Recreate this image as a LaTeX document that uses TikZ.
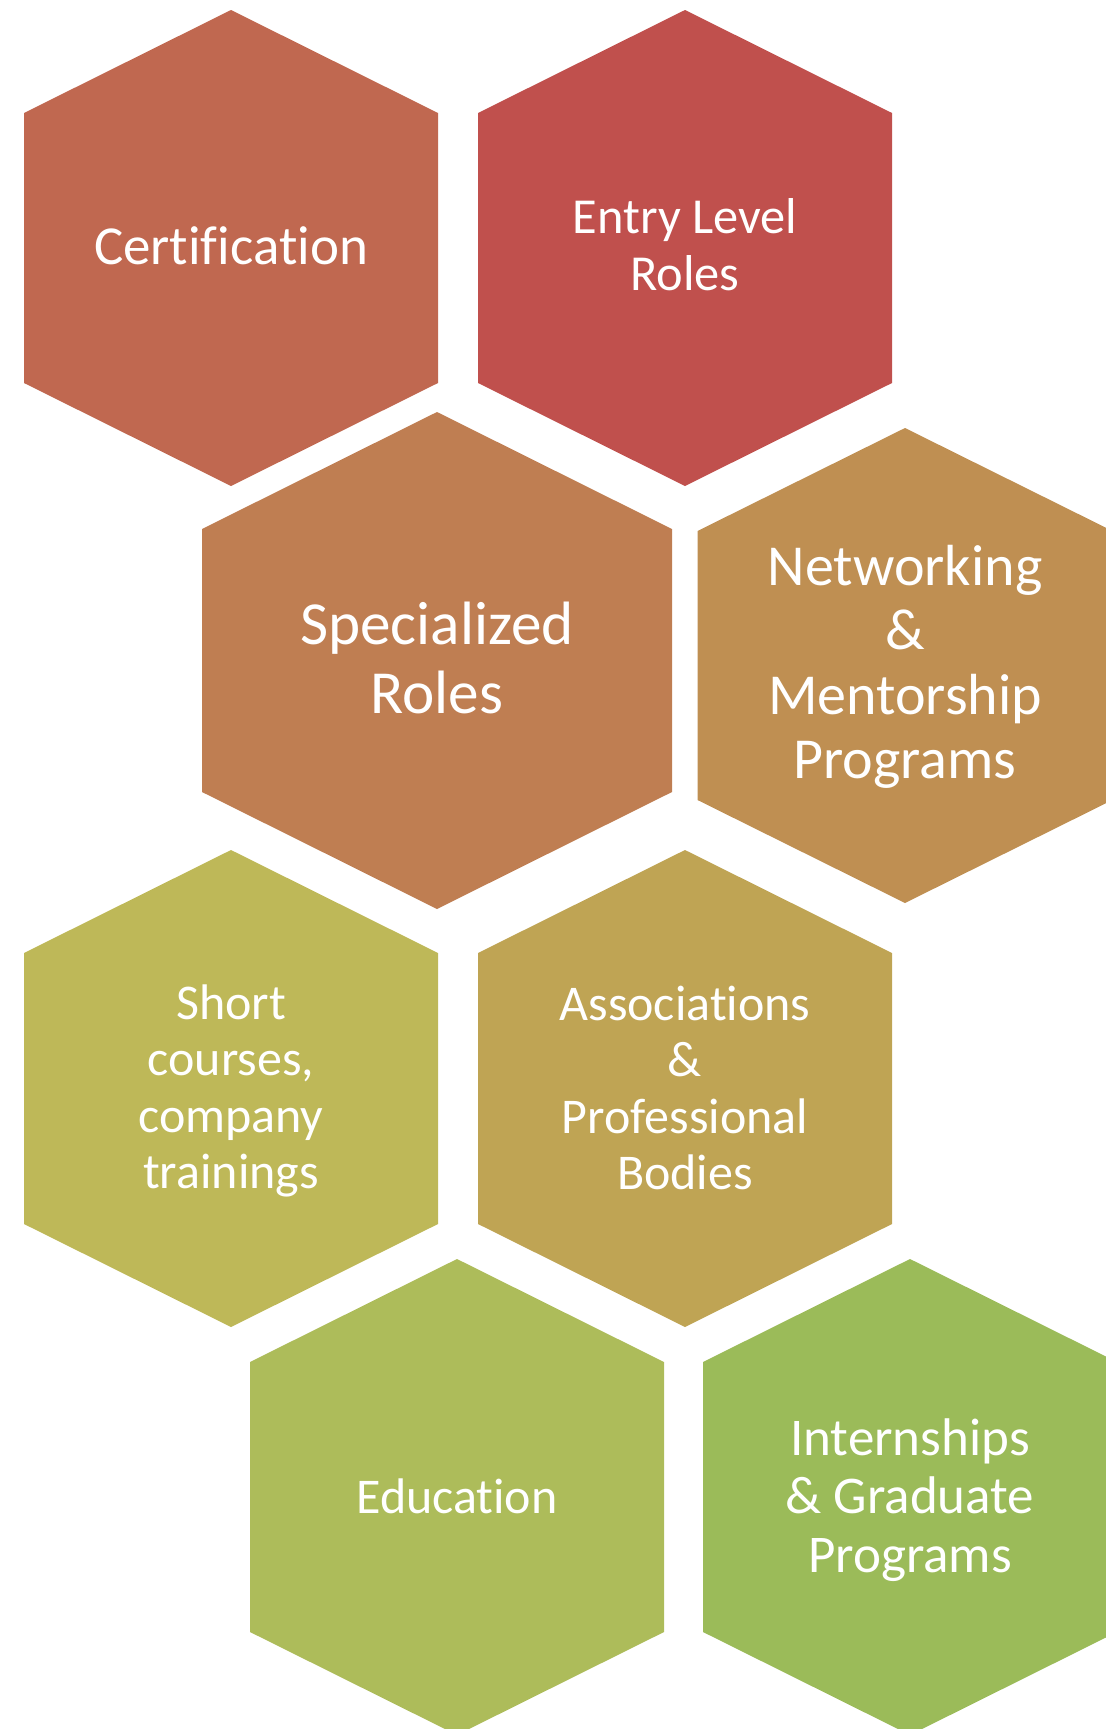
\documentclass[tikz,border=0pt]{standalone}
\usepackage{fontspec}
\setmainfont{Carlito}[Ligatures={NoCommon,NoRare}]
\usetikzlibrary{positioning}
\definecolor{certcol}{RGB}{192,104,80}
\definecolor{entrycol}{RGB}{192,80,77}
\definecolor{speccol}{RGB}{191,126,82}
\definecolor{netcol}{RGB}{191,143,82}
\definecolor{shortcol}{RGB}{190,184,88}
\definecolor{assoccol}{RGB}{191,164,84}
\definecolor{educol}{RGB}{173,188,90}
\definecolor{interncol}{RGB}{155,187,89}

\begin{document}
\begin{tikzpicture}[x=0.5pt, y=-0.5pt,
  lbl/.style={text=white, align=center, inner sep=0pt}]
\useasboundingbox (0,0) rectangle (1106,1729);
\foreach \cx/\t/\w/\h/\o/\col in {231/10/414/476/103/certcol, 685/10/414/476/103/entrycol,
  437/412/470/497/117/speccol, 905/428/415/475/103/netcol,
  231/850/414/477/103/shortcol, 685/850/414/477/103/assoccol,
  457/1259/414/476/103/educol, 910/1259/414/476/103/interncol}
{
\fill[\col] (\cx,\t) -- ++(\w/2,\o) -- ++(0,\h-2*\o) -- ++(-\w/2,\o)
  -- ++(-\w/2,-\o) -- ++(0,-\h+2*\o) -- cycle;
}
\node[lbl, font=\fontsize{27.5}{34}\selectfont] (cert) at (231,246) {Certification};
\node[lbl, font=\fontsize{25.2}{28.4}\selectfont] (entry) at (685,245) {Entry Level\\Roles};
\node[lbl, font=\fontsize{30.6}{34.2}\selectfont] (spec) at (437,658) {Specialized\\Roles};
\node[lbl, font=\fontsize{29}{32.2}\selectfont] (net) at (905,667) {Networking\\\&\\Mentorship\\Programs};
\node[lbl, font=\fontsize{25}{28.3}\selectfont] (short) at (231,1091) {Short\\courses,\\company\\trainings};
\node[lbl, font=\fontsize{25}{28.3}\selectfont] (assoc) at (685,1088) {Associations\\\&\\Professional\\Bodies};
\node[lbl, font=\fontsize{25}{28}\selectfont] (edu) at (457,1496) {Education};
\node[lbl, font=\fontsize{26.5}{29.4}\selectfont] (intern) at (910,1500) {Internships\\\& Graduate\\Programs};
\end{tikzpicture}
\end{document}
